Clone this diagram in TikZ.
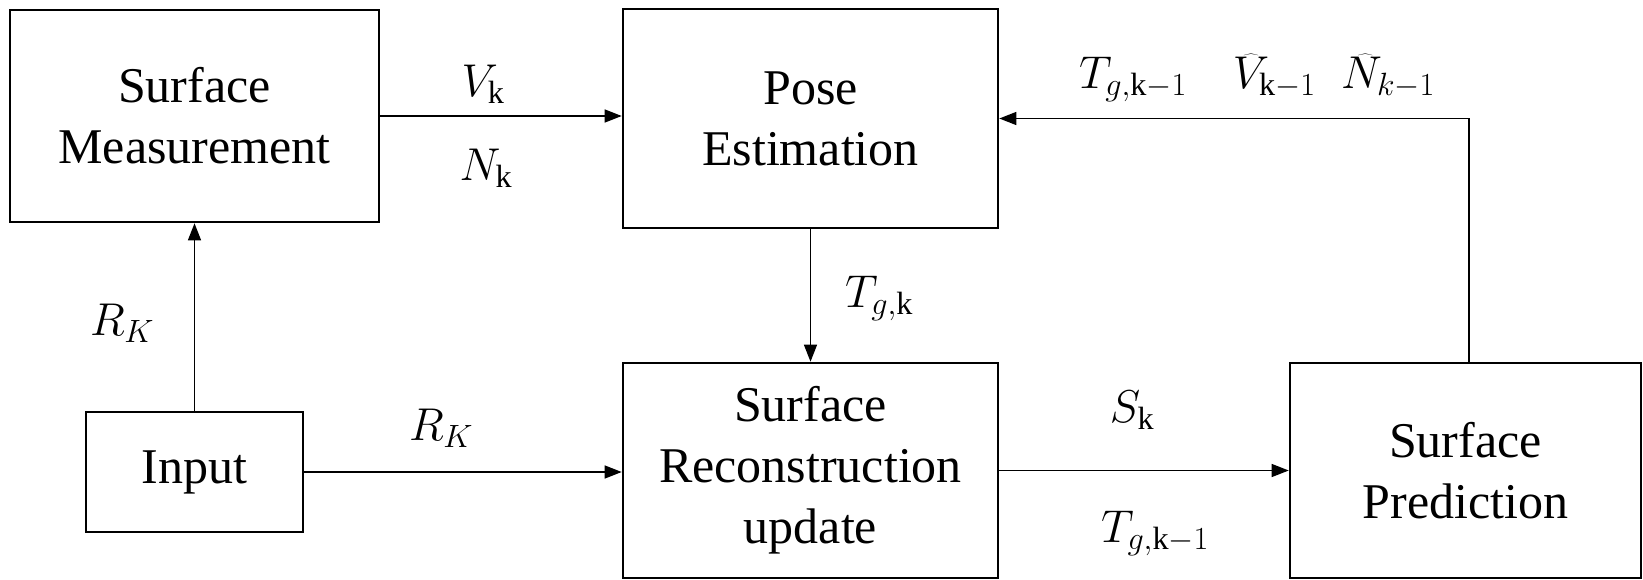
\RequirePackage{fix-cm}
\documentclass[tikz,border=0pt]{standalone}
\usepackage{fontspec}
\setmainfont{Liberation Serif}
\usetikzlibrary{arrows.meta,calc}
\begin{document}
\begin{tikzpicture}[x=1pt,y=-1pt,
  blk/.style={draw=black,line width=2.6pt,align=center,inner sep=0pt,
    font=\fontsize{50}{61}\selectfont},
  conn/.style={line width=1.3pt,-{Triangle[length=17pt,width=13pt]}},
  plain/.style={line width=1.3pt},
  lbl/.style={font=\fontsize{46}{54}\selectfont,inner sep=0pt}]
\useasboundingbox (0,0) rectangle (1643,580);
% boxes
\node[blk,minimum width=369pt,minimum height=212pt] (sm) at (194.5,116) {Surface\\Measurement};
\node[blk,minimum width=375pt,minimum height=219pt] (pe) at (810.5,118.5) {Pose\\Estimation};
\node[blk,minimum width=217pt,minimum height=120pt] (in) at (194.5,472) {Input};
\node[blk,minimum width=375pt,minimum height=215pt] (sr) at (810.5,470.5) {Surface\\Reconstruction\\update};
\node[blk,minimum width=351pt,minimum height=215pt] (sp) at (1465.5,470.5) {Surface\\Prediction};
% connectors
\draw[conn] (sm.east) -- (sm.east -| pe.west);
\draw[conn] (in.north) -- (sm.south);
\draw[conn] (in.east) -- (in.east -| sr.west);
\draw[conn] (pe.south) -- (sr.north);
\draw[conn] (sr.east) -- (sr.east -| sp.west);
\coordinate (fb) at ($(sp.north)+(3.5,0)$);
\coordinate (corner) at (fb |- pe.east);
\draw[plain] (fb) -- (corner);
\draw[conn] (corner) -- (pe.east);
% labels
\node[lbl] (lv) at (483,84) {$V_{\mathrm{k}}$};
\node[lbl] (ln) at (486,168) {$N_{\mathrm{k}}$};
\node[lbl] (lr1) at (122,323) {$R_K$};
\node[lbl] (lr2) at (441,428) {$R_K$};
\node[lbl] (lt) at (879,298) {$T_{g,\mathrm{k}}$};
\node[lbl] (ls) at (1132,410) {$S_{\mathrm{k}}$};
\node[lbl] (lt2) at (1155,533) {$T_{g,\mathrm{k}-1}$};
\node[lbl] (lfb) at (1257,78) {$T_{g,\mathrm{k}-1}\quad \widehat{V}_{\mathrm{k}-1}\;\; \widehat{N}_{k-1}$};
\end{tikzpicture}
\end{document}
